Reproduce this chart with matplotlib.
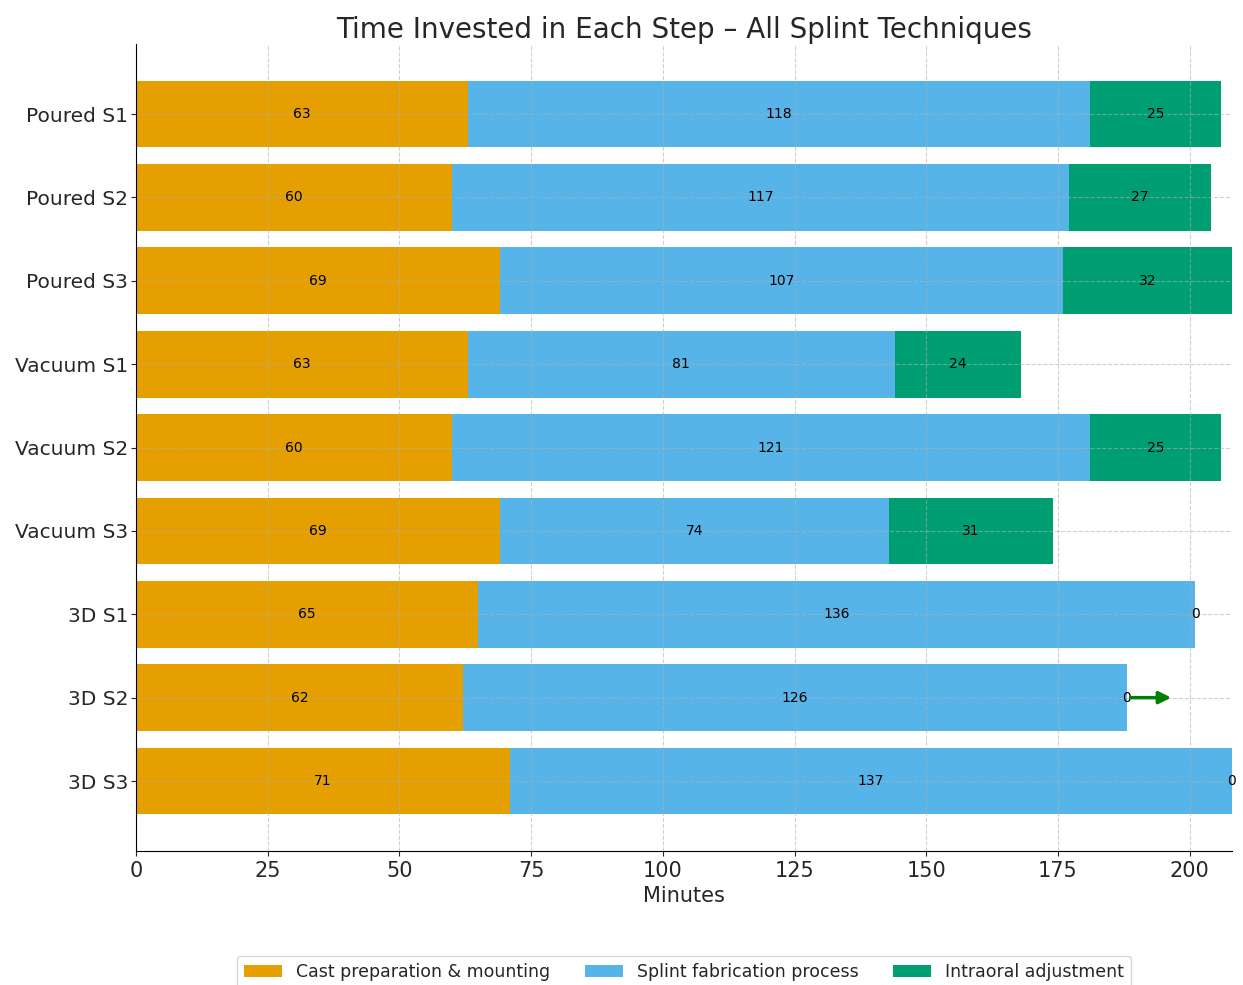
import matplotlib.pyplot as plt
import numpy as np

categories = ["Poured S1", "Poured S2", "Poured S3",
              "Vacuum S1", "Vacuum S2", "Vacuum S3",
              "3D S1", "3D S2", "3D S3"]
cast_prep = [63, 60, 69, 63, 60, 69, 65, 62, 71]
fabrication = [118, 117, 107, 81, 121, 74, 136, 126, 137]
intraoral = [25, 27, 32, 24, 25, 31, 0, 0, 0]
step_names = ["Cast preparation & mounting", "Splint fabrication process",
              "Intraoral adjustment"]
step_colors = ["#E69F00", "#56B4E9", "#009E73"]

plt.rcParams["text.color"] = "#262626"
plt.rcParams["axes.labelcolor"] = "#262626"
plt.rcParams["xtick.color"] = "#262626"
plt.rcParams["ytick.color"] = "#262626"

fig = plt.figure(figsize=(12.43, 9.85), dpi=100)
ax = fig.add_axes([0.1094, 0.136, 0.8817, 0.8193])

y = np.arange(len(categories))
left = np.zeros(len(categories))
for vals, name, col in zip([cast_prep, fabrication, intraoral], step_names, step_colors):
    vals = np.array(vals, dtype=float)
    ax.barh(y, vals, left=left, height=0.8, color=col, label=name)
    for yi, l, v in zip(y, left, vals):
        ax.text(l + v / 2, yi, f"{int(v)}", ha="center", va="center", fontsize=10,
                color="black")
    left = left + vals

# arrow next to the 3D S2 bar
ax.annotate("", xy=(197, 7), xytext=(188.3, 7),
            arrowprops=dict(arrowstyle="-|>", color="green", lw=2.5, mutation_scale=18))

ax.set_yticks(y)
ax.set_yticklabels(categories, fontsize=14.5)
ax.tick_params(axis="y", pad=2)
ax.invert_yaxis()
ax.set_xlim(0, 208)
ax.set_xticks([0, 25, 50, 75, 100, 125, 150, 175, 200])
ax.tick_params(axis="x", labelsize=15)
ax.set_xlabel("Minutes", fontsize=15)
ax.set_title("Time Invested in Each Step \u2013 All Splint Techniques", fontsize=20, pad=4)
ax.grid(True, linestyle="--", color="#b0b0b0", alpha=0.6)
ax.spines["top"].set_visible(False)
ax.spines["right"].set_visible(False)

fig.legend(loc="upper center", bbox_to_anchor=(0.5503, 0.029), ncol=3, fontsize=12.5,
           handlelength=2.2, columnspacing=2.0, borderaxespad=0)

fig.savefig("out.png", dpi=100)
